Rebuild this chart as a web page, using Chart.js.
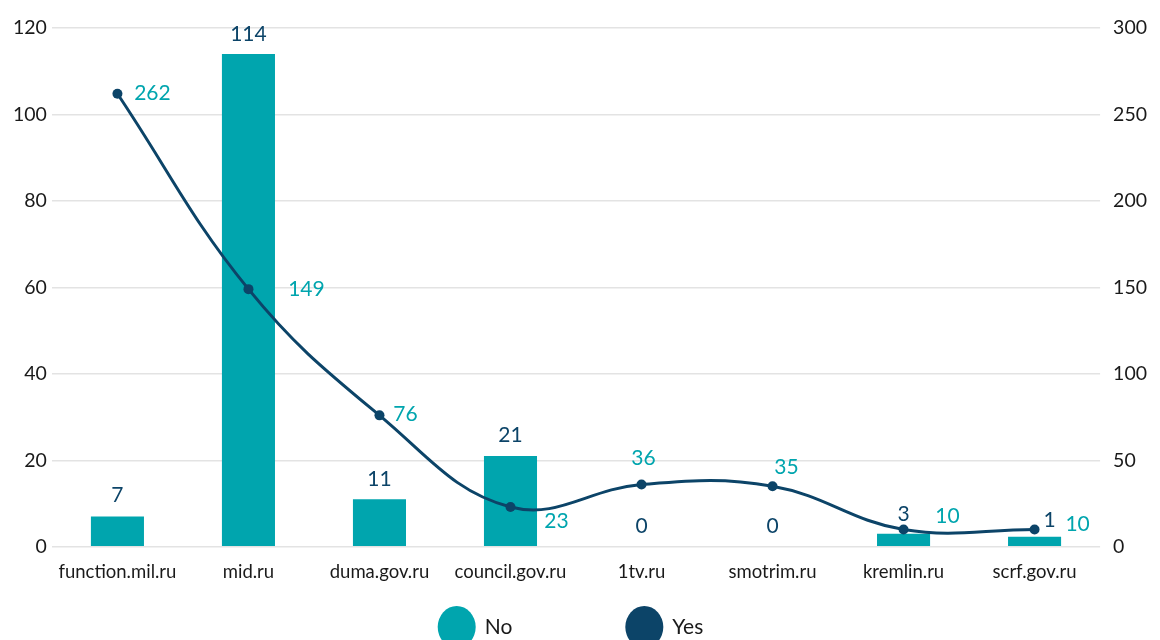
<!DOCTYPE html>
<html>
<head>
<meta charset="utf-8">
<script src="https://cdn.jsdelivr.net/npm/chart.js@4.4.1/dist/chart.umd.min.js"></script>
<style>
  html, body { margin: 0; padding: 0; background: #fff; overflow: hidden; }
  #wrap { width: 1160px; height: 640px; position: relative; }
</style>
</head>
<body>
<div id="wrap"><canvas id="c"></canvas></div>
<script>
const sites = ['function.mil.ru', 'mid.ru', 'duma.gov.ru', 'council.gov.ru', '1tv.ru', 'smotrim.ru', 'kremlin.ru', 'scrf.gov.ru'];
const noValues = [7, 114, 11, 21, 0, 0, 3, 1];
const yesValues = [262, 149, 76, 23, 36, 35, 10, 10];
const leftTicks = [0, 20, 40, 60, 80, 100, 120];
const rightTicks = [0, 50, 100, 150, 200, 250, 300];

const TEAL = '#00a5ae';
const NAVY = '#0c4468';
const FONT = 'Lato, "Open Sans", sans-serif';

// value labels, drawn after the datasets
const valueLabels = {
  id: 'valueLabels',
  afterDatasetsDraw(chart, args, opts) {
    const ctx = chart.ctx;
    ctx.save();
    ctx.font = '21px ' + FONT;
    ctx.textAlign = 'center';
    ctx.textBaseline = 'middle';
    const bars = chart.getDatasetMeta(0).data;
    const yZero = chart.scales.y.getPixelForValue(0);
    ctx.fillStyle = NAVY;
    bars.forEach((el, i) => {
      const s = opts.barShift[i];
      const top = noValues[i] ? el.y : yZero;
      ctx.fillText(String(noValues[i]), el.x + s[0], top + s[1]);
    });
    const pts = chart.getDatasetMeta(1).data;
    ctx.fillStyle = TEAL;
    pts.forEach((el, i) => {
      const s = opts.lineShift[i];
      ctx.fillText(String(yesValues[i]), el.x + s[0], el.y + s[1]);
    });
    ctx.restore();
  }
};

// big round legend markers at the bottom
const roundLegend = {
  id: 'roundLegend',
  afterDraw(chart) {
    const ctx = chart.ctx;
    const items = chart.data.datasets.map(d => ({ text: d.label, color: d.legendColor }));
    ctx.save();
    ctx.font = '21px ' + FONT;
    ctx.textBaseline = 'middle';
    const r = 20, gap = 8, spacing = 112;
    const widths = items.map(it => 2 * r + gap + ctx.measureText(it.text).width);
    const total = widths.reduce((a, b) => a + b, 0) + spacing * (items.length - 1);
    let x = chart.width / 2 - 10 - total / 2;
    const y = 627;
    items.forEach((it, i) => {
      ctx.fillStyle = it.color;
      ctx.beginPath();
      ctx.ellipse(x + r, y, r - 1, r + 1, 0, 0, Math.PI * 2);
      ctx.fill();
      ctx.fillStyle = '#1a1a1a';
      ctx.textAlign = 'left';
      ctx.fillText(it.text, x + 2 * r + gap, y);
      x += widths[i] + spacing;
    });
    ctx.restore();
  }
};

new Chart(document.getElementById('c'), {
  data: {
    labels: sites,
    datasets: [
      {
        type: 'bar',
        label: 'No',
        data: noValues.map(v => (v === 0 ? null : v)),
        yAxisID: 'y',
        order: 2,
        backgroundColor: TEAL,
        legendColor: TEAL,
        barPercentage: 0.405,
        categoryPercentage: 1,
        minBarLength: 10
      },
      {
        type: 'line',
        label: 'Yes',
        data: yesValues,
        yAxisID: 'y1',
        order: 1,
        borderColor: NAVY,
        backgroundColor: NAVY,
        legendColor: NAVY,
        borderWidth: 3,
        pointRadius: 5,
        pointBackgroundColor: NAVY,
        pointBorderWidth: 0,
        tension: 0.4,
        fill: false
      }
    ]
  },
  options: {
    responsive: true,
    maintainAspectRatio: false,
    animation: false,
    layout: { padding: { top: 28, left: 8, right: 0, bottom: 51 } },
    plugins: {
      legend: { display: false },
      tooltip: { enabled: false },
      valueLabels: {
        barShift: [[0, -21], [0, -20], [0, -20], [0, -21], [0, -21], [0, -21], [0, -20], [15, -17]],
        lineShift: [[35, 0], [58, 0], [26, -1], [46, 14], [2, -26], [14, -19], [44, -13], [43, -5]]
      }
    },
    scales: {
      x: {
        grid: { display: false },
        border: { display: false },
        ticks: { color: '#1a1a1a', font: { family: FONT, size: 18.5 }, padding: 6, maxRotation: 0, autoSkip: false }
      },
      y: {
        position: 'left',
        min: 0,
        max: 120,
        afterBuildTicks: axis => { axis.ticks = leftTicks.map(v => ({ value: v })); },
        grid: { color: '#e3e3e3', lineWidth: 1.5, drawTicks: false },
        border: { display: false },
        ticks: { color: '#1a1a1a', font: { family: FONT, size: 19.5 }, padding: 5 }
      },
      y1: {
        position: 'right',
        min: 0,
        max: 300,
        afterBuildTicks: axis => { axis.ticks = rightTicks.map(v => ({ value: v })); },
        grid: { drawOnChartArea: false, drawTicks: false },
        border: { display: false },
        ticks: { color: '#1a1a1a', font: { family: FONT, size: 19.5 }, padding: 13 }
      }
    }
  },
  plugins: [valueLabels, roundLegend]
});
</script>
</body>
</html>
